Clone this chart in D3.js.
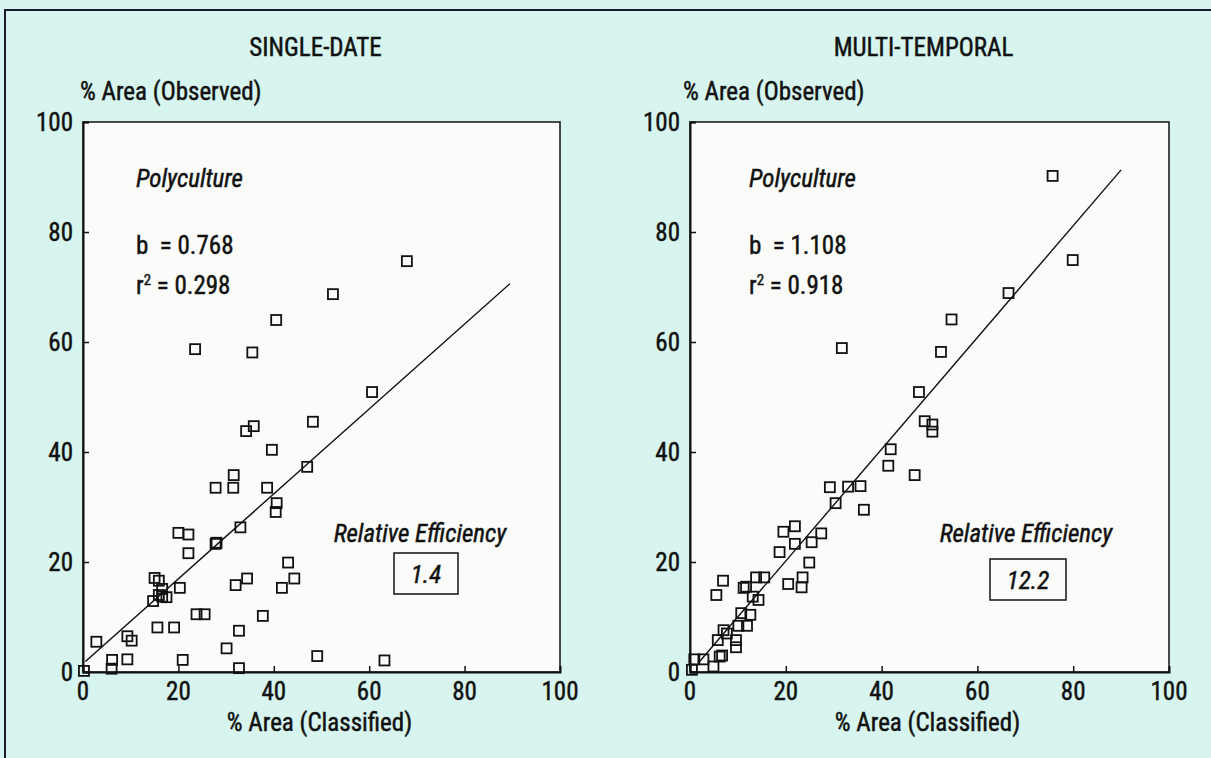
<!DOCTYPE html>
<html>
<head>
<meta charset="utf-8">
<title>Polyculture: single-date vs multi-temporal</title>
<script src="https://cdn.jsdelivr.net/npm/d3@7"></script>
<style>
  html, body { margin: 0; padding: 0; background: #fff; }
  svg { display: block; }
  text { font-family: "Liberation Sans Narrow", "Arial Narrow", "Roboto Condensed", "Liberation Sans", sans-serif; fill: #111; font-size: 25px; stroke: #111; stroke-width: 0.45; }
  .frame { fill: none; stroke: #1a1a2a; stroke-width: 2; }
  .box { fill: #fbfcf9; stroke: #111; stroke-width: 1.5; }
  .pt { fill: none; stroke: #111; stroke-width: 1.8; }
  .fit { stroke: #111; stroke-width: 1.4; fill: none; }
</style>
</head>
<body>
<svg id="chart" width="1211" height="758"></svg>
<script>
// tick values shared by both panels
var ticks = [0, 20, 40, 60, 80, 100];

// single-date: [classified, observed]
var singleDatePoints = [
  [0.2, 0.2], [2.8, 5.5], [6.1, 2.2], [6.0, 0.6], [9.3, 6.5], [10.2, 5.7], [9.3, 2.3],
  [20.9, 2.2], [15.6, 8.1], [19.1, 8.1], [14.7, 12.9], [15.0, 17.1], [15.9, 16.6],
  [16.6, 15.1], [15.9, 14.0], [17.5, 13.6], [16.6, 13.7], [20.3, 15.3], [20.0, 25.3],
  [22.1, 25.0], [22.1, 21.6], [23.8, 10.5], [25.5, 10.5], [27.8, 23.3], [28.0, 23.5],
  [27.8, 33.5], [31.6, 35.8], [31.5, 33.5], [33.0, 26.3], [32.0, 15.8], [34.4, 17.0],
  [32.7, 7.5], [30.1, 4.3], [32.7, 0.7], [37.7, 10.2], [38.6, 33.5], [39.6, 40.4],
  [40.6, 30.7], [40.4, 29.1], [47.0, 37.3], [41.7, 15.3], [43.0, 19.9], [44.3, 17.0],
  [49.1, 2.9], [23.5, 58.7], [35.5, 58.1], [40.5, 64.0], [52.4, 68.7], [34.2, 43.8],
  [35.8, 44.7], [48.2, 45.5], [60.6, 50.9], [67.9, 74.7], [63.2, 2.1]
];
var singleDateFit = [[0.5, 1.9], [89.5, 70.6]];

// multi-temporal: [classified, observed]
var multiTempPoints = [
  [0.4, 0.4], [0.9, 2.3], [2.8, 2.3], [4.9, 1.0], [6.2, 2.8], [6.7, 3.0], [5.8, 5.8],
  [7.0, 7.6], [7.7, 7.0], [9.6, 5.8], [9.6, 4.5], [10.1, 8.4], [11.9, 8.4], [10.7, 10.7],
  [12.6, 10.4], [13.1, 13.7], [14.3, 13.1], [11.2, 15.3], [11.7, 15.5], [13.8, 17.2],
  [15.5, 17.2], [5.5, 14.0], [6.9, 16.6], [18.7, 21.8], [19.5, 25.5], [21.9, 26.5],
  [21.9, 23.3], [20.5, 16.0], [23.5, 17.2], [23.3, 15.4], [24.9, 19.9], [25.4, 23.6],
  [27.4, 25.2], [29.2, 33.6], [30.4, 30.7], [33.0, 33.7], [35.6, 33.8], [36.3, 29.5],
  [41.9, 40.5], [41.4, 37.5], [46.9, 35.8], [47.8, 50.9], [49.0, 45.6], [50.6, 45.0],
  [50.6, 43.7], [31.7, 58.9], [54.6, 64.1], [52.4, 58.2], [66.5, 68.9], [75.7, 90.2],
  [79.9, 74.9]
];
var multiTempFit = [[2.0, 1.9], [90.0, 91.3]];

var panels = [
  { title: "SINGLE-DATE", slope: "0.768", r2: "0.298", eff: "1.4",
    points: singleDatePoints, fit: singleDateFit,
    left: 83, right: 560, labelX: 80, noteX: 136,
    effX: 420, effBox: [394, 553, 64, 41] },
  { title: "MULTI-TEMPORAL", slope: "1.108", r2: "0.918", eff: "12.2",
    points: multiTempPoints, fit: multiTempFit,
    left: 690, right: 1169, labelX: 683, noteX: 749,
    effX: 1026, effBox: [990, 559, 76, 41] }
];

var svg = d3.select("#chart");
var plotTop = 122, plotBottom = 672;

// mint page background + outer frame
svg.append("rect").attr("width", 1211).attr("height", 758).attr("fill", "#d7f5ee");
svg.append("path").attr("class", "frame").attr("d", "M5,758 V10 H1211");

panels.forEach(function(p) {
  var x = d3.scaleLinear().domain([0, 100]).range([p.left, p.right]);
  var y = d3.scaleLinear().domain([0, 100]).range([plotBottom, plotTop]);
  var g = svg.append("g");

  g.append("rect").attr("class", "box")
    .attr("x", p.left).attr("y", plotTop)
    .attr("width", p.right - p.left).attr("height", plotBottom - plotTop);

  // axes with inward ticks
  var yAxis = d3.axisRight(y).tickValues(ticks).tickSize(6).tickFormat("");
  var xAxis = d3.axisTop(x).tickValues(ticks.slice(1, 5)).tickSize(6).tickFormat("");
  var ya = g.append("g").attr("transform", "translate(" + p.left + ",0)").call(yAxis);
  var xa = g.append("g").attr("transform", "translate(0," + plotBottom + ")").call(xAxis);
  [ya, xa].forEach(function(a) {
    a.select(".domain").attr("stroke", "#111").attr("stroke-width", 2);
    a.selectAll(".tick line").attr("stroke", "#111").attr("stroke-width", 1.5);
  });

  g.selectAll(".ylab").data(ticks).join("text").attr("class", "ylab")
    .attr("x", p.left - 10).attr("y", function(d) { return y(d) + 9; })
    .attr("text-anchor", "end").text(function(d) { return d; });
  g.selectAll(".xlab").data(ticks).join("text").attr("class", "xlab")
    .attr("x", function(d) { return x(d); }).attr("y", 700)
    .attr("text-anchor", "middle").text(function(d) { return d; });

  g.append("text").attr("x", (p.left + p.right) / 2 - 6).attr("y", 56)
    .attr("text-anchor", "middle").text(p.title);
  g.append("text").attr("x", p.labelX).attr("y", 100).text("% Area (Observed)");
  g.append("text").attr("x", (p.left + p.right) / 2 - 2).attr("y", 731)
    .attr("text-anchor", "middle").text("% Area (Classified)");

  // annotations
  g.append("text").attr("x", p.noteX).attr("y", 187)
    .attr("font-style", "italic").text("Polyculture");
  g.append("text").attr("x", p.noteX).attr("y", 254)
    .attr("xml:space", "preserve").text("b  = " + p.slope);
  var r = g.append("text").attr("x", p.noteX).attr("y", 294);
  r.append("tspan").text("r");
  r.append("tspan").attr("font-size", 15).attr("dy", -9).text("2");
  r.append("tspan").attr("dy", 9).text(" = " + p.r2);

  g.append("text").attr("x", p.effX).attr("y", 542).attr("text-anchor", "middle")
    .attr("font-style", "italic").text("Relative Efficiency");
  var b = p.effBox;
  g.append("rect").attr("x", b[0]).attr("y", b[1]).attr("width", b[2]).attr("height", b[3])
    .attr("fill", "none").attr("stroke", "#111").attr("stroke-width", 1.5);
  g.append("text").attr("x", b[0] + b[2] / 2).attr("y", b[1] + 30)
    .attr("text-anchor", "middle").attr("font-style", "italic").text(p.eff);

  // regression line
  g.append("path").attr("class", "fit")
    .attr("d", d3.line().x(function(d) { return x(d[0]); }).y(function(d) { return y(d[1]); })(p.fit));

  // open square markers
  var s = 10;
  g.selectAll(".pt").data(p.points).join("rect").attr("class", "pt")
    .attr("x", function(d) { return x(d[0]) - s / 2; })
    .attr("y", function(d) { return y(d[1]) - s / 2; })
    .attr("width", s).attr("height", s);
});
</script>
</body>
</html>
